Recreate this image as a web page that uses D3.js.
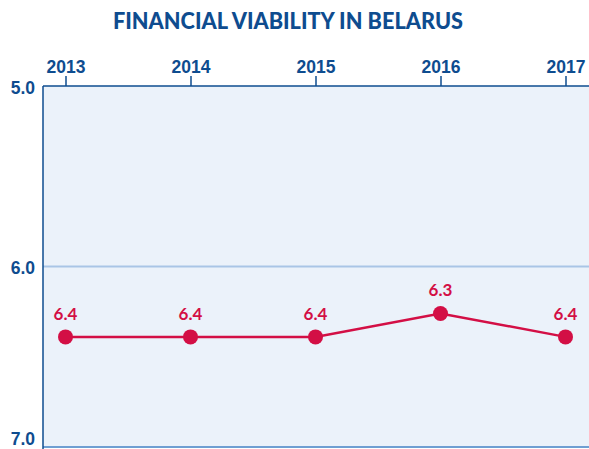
<!DOCTYPE html>
<head>
<meta charset="utf-8">
<style>
body { margin: 0; background: #fff; }
svg { display: block; font-family: Lato, "Open Sans", sans-serif; }
.title { font-size: 22px; font-weight: 900; fill: #0e4c8f; }
.axis text { font-size: 17.5px; font-weight: 700; fill: #0e4c8f; }
.axis line { stroke: #0e4c8f; stroke-width: 1.5; }
.label { font-size: 17px; font-weight: 700; fill: #d30f45; }
</style>
</head>
<body>
<script src="https://cdnjs.cloudflare.com/ajax/libs/d3/7.8.5/d3.min.js"></script>
<script>

// data
var years = ['2013', '2014', '2015', '2016', '2017'];
var scores = [6.39, 6.39, 6.39, 6.26, 6.39];
var scoreLabels = ['6.4', '6.4', '6.4', '6.3', '6.4'];
var yTicks = [5, 6, 7];

var width = 589,
    height = 449;

// note: "top" is taken by window.top
var plotLeft = 43, plotTop = 86, plotBottom = 447;

var svg = d3.select('body').append('svg')
    .attr('width', width)
    .attr('height', height);

var x = d3.scalePoint()
    .domain(years)
    .range([65.5, 565.5]);

var y = d3.scaleLinear()
    .domain([5, 7])
    .range([plotTop, plotBottom]);

// title
svg.append('text')
    .attr('class', 'title')
    .attr('x', 288)
    .attr('y', 29)
    .attr('text-anchor', 'middle')
    .attr('textLength', 350)
    .attr('lengthAdjust', 'spacingAndGlyphs')
    .text('FINANCIAL VIABILITY IN BELARUS');

// plot background
svg.append('rect')
    .attr('x', plotLeft)
    .attr('y', plotTop)
    .attr('width', width - plotLeft)
    .attr('height', plotBottom - plotTop)
    .attr('fill', '#ebf2fa');

// gridline at 6.0
svg.append('line')
    .attr('x1', plotLeft).attr('x2', width)
    .attr('y1', y(6)).attr('y2', y(6))
    .attr('stroke', '#a9c5e6')
    .attr('stroke-width', 2);

// bottom line
svg.append('line')
    .attr('x1', plotLeft).attr('x2', width)
    .attr('y1', plotBottom).attr('y2', plotBottom)
    .attr('stroke', '#6f9fd2')
    .attr('stroke-width', 2);

// top axis (years)
var xAxis = svg.append('g')
    .attr('class', 'axis')
    .attr('transform', 'translate(0,' + plotTop + ')')
    .call(d3.axisTop(x).tickSize(10).tickPadding(3));
xAxis.select('.domain').remove();

svg.append('line')
    .attr('x1', plotLeft).attr('x2', width)
    .attr('y1', plotTop).attr('y2', plotTop)
    .attr('stroke', '#0e4c8f')
    .attr('stroke-width', 1.5);

// left axis
var yAxis = svg.append('g')
    .attr('class', 'axis')
    .attr('transform', 'translate(' + plotLeft + ',0)')
    .call(d3.axisLeft(y).tickValues(yTicks).tickSize(0).tickPadding(8)
        .tickFormat(d3.format('.1f')));
yAxis.select('.domain').remove();
// last label sits on the bottom edge, lift it so it is not clipped
yAxis.selectAll('.tick text')
    .attr('dy', function(d) { return d === 7 ? '-0.12em' : '0.4em'; });

svg.append('line')
    .attr('x1', plotLeft).attr('x2', plotLeft)
    .attr('y1', plotTop).attr('y2', height)
    .attr('stroke', '#0e4c8f')
    .attr('stroke-width', 1.5);

// series
var line = d3.line()
    .x(function(d, i) { return x(years[i]); })
    .y(function(d) { return y(d); });

svg.append('path')
    .datum(scores)
    .attr('d', line)
    .attr('fill', 'none')
    .attr('stroke', '#d30f45')
    .attr('stroke-width', 2.5);

svg.selectAll('circle.pt')
    .data(scores)
    .enter().append('circle')
    .attr('class', 'pt')
    .attr('cx', function(d, i) { return x(years[i]); })
    .attr('cy', function(d) { return y(d); })
    .attr('r', 7.5)
    .attr('fill', '#d30f45');

svg.selectAll('text.label')
    .data(scores)
    .enter().append('text')
    .attr('class', 'label')
    .attr('x', function(d, i) { return x(years[i]); })
    .attr('y', function(d) { return y(d) - 17; })
    .attr('text-anchor', 'middle')
    .text(function(d, i) { return scoreLabels[i]; });

</script>
</body>
</html>
